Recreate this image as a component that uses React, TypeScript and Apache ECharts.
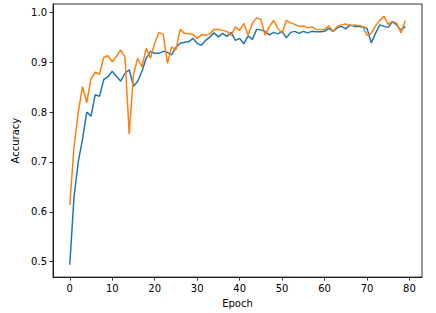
import React, { useEffect, useRef } from "react";
import * as echarts from "echarts";

const trainAcc = [
  0.494, 0.63, 0.70, 0.746, 0.80, 0.792, 0.835, 0.832, 0.865, 0.871,
  0.882, 0.872, 0.862, 0.878, 0.885, 0.852, 0.862, 0.882, 0.908, 0.922,
  0.918, 0.918, 0.922, 0.92, 0.915, 0.93, 0.938, 0.94, 0.941, 0.948,
  0.938, 0.934, 0.944, 0.951, 0.959, 0.951, 0.958, 0.952, 0.96, 0.944,
  0.948, 0.937, 0.953, 0.946, 0.966, 0.965, 0.962, 0.955, 0.96, 0.957,
  0.962, 0.949, 0.96, 0.962, 0.958, 0.962, 0.959, 0.962, 0.961, 0.961,
  0.962, 0.968, 0.962, 0.969, 0.972, 0.967, 0.975, 0.972, 0.972, 0.971,
  0.968, 0.939, 0.958, 0.975, 0.972, 0.97, 0.981, 0.975, 0.964, 0.972,
];

const valAcc = [
  0.614, 0.73, 0.80, 0.851, 0.819, 0.867, 0.88, 0.876, 0.91, 0.913,
  0.901, 0.912, 0.925, 0.911, 0.756, 0.875, 0.908, 0.891, 0.928, 0.908,
  0.938, 0.96, 0.956, 0.898, 0.931, 0.925, 0.966, 0.958, 0.957, 0.956,
  0.948, 0.955, 0.954, 0.957, 0.966, 0.966, 0.964, 0.962, 0.954, 0.971,
  0.964, 0.978, 0.954, 0.978, 0.989, 0.986, 0.954, 0.971, 0.984, 0.968,
  0.958, 0.984, 0.979, 0.976, 0.972, 0.973, 0.969, 0.971, 0.966, 0.965,
  0.966, 0.973, 0.962, 0.972, 0.975, 0.977, 0.973, 0.975, 0.974, 0.972,
  0.954, 0.958, 0.973, 0.984, 0.992, 0.976, 0.982, 0.978, 0.959, 0.984,
];

const xTicks = [0, 10, 20, 30, 40, 50, 60, 70, 80];
const yTicks = [0.5, 0.6, 0.7, 0.8, 0.9, 1.0];

const FONT = "DejaVu Sans";

export default function App() {
  const ref = useRef<HTMLDivElement>(null);
  useEffect(() => {
    if (!ref.current) return;
    const chart = echarts.init(ref.current, undefined, { renderer: "svg" });
    const n = trainAcc.length;
    const all = trainAcc.concat(valAcc);
    const ymin = Math.min(...all);
    const ymax = Math.max(...all);
    const ym = (ymax - ymin) * 0.05;
    const xm = (n - 1) * 0.05;
    chart.setOption({
      animation: false,
      grid: {
        left: 53,
        top: 4,
        right: 14,
        bottom: 35,
        show: true,
        borderColor: "#000",
        borderWidth: 0.8,
        backgroundColor: "transparent",
      },
      xAxis: {
        type: "value",
        min: -xm,
        max: n - 1 + xm,
        name: "Epoch",
        nameLocation: "middle",
        nameGap: 19,
        nameTextStyle: { fontFamily: FONT, fontSize: 10, color: "#000" },
        axisLine: { show: true, onZero: false, lineStyle: { color: "#000", width: 0.8 } },
        axisTick: {
          show: true,
          length: 3.5,
          lineStyle: { color: "#000", width: 0.8 },
          customValues: xTicks,
        },
        axisLabel: {
          fontFamily: FONT,
          fontSize: 10,
          color: "#000",
          margin: 6,
          customValues: xTicks,
          formatter: (v: number) => String(Math.round(v)),
        },
        splitLine: { show: false },
      },
      yAxis: {
        type: "value",
        min: ymin - ym,
        max: ymax + ym,
        name: "Accuracy",
        nameLocation: "middle",
        nameGap: 22,
        nameTextStyle: { fontFamily: FONT, fontSize: 10, color: "#000" },
        axisLine: { show: true, onZero: false, lineStyle: { color: "#000", width: 0.8 } },
        axisTick: {
          show: true,
          length: 3.5,
          lineStyle: { color: "#000", width: 0.8 },
          customValues: yTicks,
        },
        axisLabel: {
          fontFamily: FONT,
          fontSize: 10,
          color: "#000",
          margin: 6,
          customValues: yTicks,
          formatter: (v: number) => v.toFixed(1),
        },
        splitLine: { show: false },
      },
      series: [
        {
          name: "train",
          type: "line",
          data: trainAcc.map((v, i) => [i, v]),
          symbol: "none",
          lineStyle: { color: "#1f77b4", width: 1.5 },
          itemStyle: { color: "#1f77b4" },
        },
        {
          name: "val",
          type: "line",
          data: valAcc.map((v, i) => [i, v]),
          symbol: "none",
          lineStyle: { color: "#ff7f0e", width: 1.5 },
          itemStyle: { color: "#ff7f0e" },
        },
      ],
    });
    return () => chart.dispose();
  }, []);
  return (
    <div
      ref={ref}
      style={{ position: "fixed", left: 0, top: 0, width: 436, height: 313, background: "#fff" }}
    />
  );
}
